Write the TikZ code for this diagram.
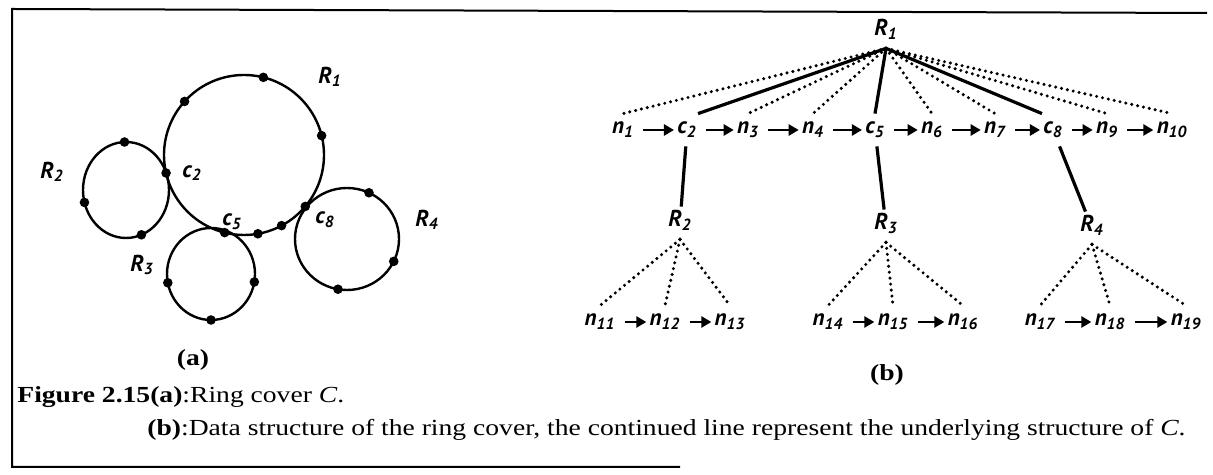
\documentclass[tikz,border=0pt]{standalone}
\usepackage{fontspec}
\setmainfont{Liberation Serif}[FakeStretch=1.2]
\newfontfamily\labfont{PT Sans}
\usetikzlibrary{arrows.meta, positioning}

\newcommand{\lbl}[2]{#1\textsubscript{#2}}

\begin{document}
\begin{tikzpicture}[
        x=0.5pt, y=0.5pt,
        lab/.style={font=\fontsize{11.5}{13}\selectfont\labfont\bfseries\itshape, inner sep=1pt},
        tlab/.style={lab, text height=6.5pt, text depth=2.5pt, inner xsep=0.5pt, inner ysep=3.5pt},
        ring/.style={line width=1.2pt},
        ringdot/.style={circle, fill=black, inner sep=0pt, minimum size=4.8pt},
        arr/.style={-{Triangle[length=5pt, width=5.5pt]}, line width=1.4pt, shorten <=4pt, shorten >=1pt},
        tree/.style={line width=1.6pt},
        dots/.style={line width=1.7pt, line cap=round, dash pattern=on 0pt off 3pt},
        figcap/.style={font=\fontsize{11.5}{13}\selectfont, inner sep=0pt, anchor=west}
    ]
    \useasboundingbox (0,0) rectangle (1213,475);

    % Frame
    \draw[line width=1pt] (680,8) -- (12,8) -- (12,466) -- (1207,462);

    % (a) ring cover
    \coordinate (cR1) at (244,320);
    \coordinate (cR2) at (126,285);
    \coordinate (cR3) at (211,201);
    \coordinate (cR4) at (347,236);
    \draw[ring] (cR1) circle[radius=80];
    \draw[ring] (cR2) ellipse[x radius=43, y radius=48];
    \draw[ring] (cR3) ellipse[x radius=44, y radius=46];
    \draw[ring] (cR4) ellipse[x radius=52, y radius=51];

    \path (cR1) ++(76:80) node[ringdot] (dA1) {};
    \path (cR1) ++(138:80) node[ringdot] (dA2) {};
    \path (cR1) ++(14:80) node[ringdot] (dA3) {};
    \path (cR1) ++(193:80) node[ringdot] (dc2) {};
    \path (cR1) ++(-40:80) node[ringdot] (dc8) {};
    \path (cR1) ++(-62:80) node[ringdot] (dA4) {};
    \path (cR1) ++(-80:80) node[ringdot] (dA5) {};
    \path (cR1) ++(256:80) node[ringdot] (dc5) {};
    \path (cR2) ++(92:43 and 48) node[ringdot] (dB1) {};
    \path (cR2) ++(195:43 and 48) node[ringdot] (dB2) {};
    \path (cR2) ++(-69:43 and 48) node[ringdot] (dB3) {};
    \path (cR3) ++(191:44 and 46) node[ringdot] (dC1) {};
    \path (cR3) ++(-10:44 and 46) node[ringdot] (dC2) {};
    \path (cR3) ++(-90:44 and 46) node[ringdot] (dC3) {};
    \path (cR4) ++(65:52 and 51) node[ringdot] (dD1) {};
    \path (cR4) ++(-26:52 and 51) node[ringdot] (dD2) {};
    \path (cR4) ++(-100:52 and 51) node[ringdot] (dD3) {};

    \node[lab] (lR1) at (330,398) {\lbl{R}{1}};
    \node[lab] (lR2) at (52,303) {\lbl{R}{2}};
    \node[lab] (lR3) at (142,210) {\lbl{R}{3}};
    \node[lab] (lR4) at (427,255) {\lbl{R}{4}};
    \node[lab] (lc2) at (192,302) {\lbl{c}{2}};
    \node[lab] (lc5) at (232,253) {\lbl{c}{5}};
    \node[lab] (lc8) at (325,255) {\lbl{c}{8}};
    \node[font=\fontsize{11.5}{13}\selectfont\bfseries] (capa) at (193,115) {(a)};

    % (b) data structure
    \node[tlab] (tR1) at (886,443) {\lbl{R}{1}};
    \node[tlab] (n1) at (623,345) {\lbl{n}{1}};
    \node[tlab] (c2) at (687,345) {\lbl{c}{2}};
    \node[tlab] (n3) at (748,345) {\lbl{n}{3}};
    \node[tlab] (n4) at (813,345) {\lbl{n}{4}};
    \node[tlab] (c5) at (875,345) {\lbl{c}{5}};
    \node[tlab] (n6) at (932,345) {\lbl{n}{6}};
    \node[tlab] (n7) at (995,345) {\lbl{n}{7}};
    \node[tlab] (c8) at (1053,345) {\lbl{c}{8}};
    \node[tlab] (n9) at (1107,345) {\lbl{n}{9}};
    \node[tlab] (n10) at (1172,345) {\lbl{n}{10}};

    \node[tlab] (tR2) at (680,252) {\lbl{R}{2}};
    \node[tlab] (tR3) at (886,249) {\lbl{R}{3}};
    \node[tlab] (tR4) at (1092,247) {\lbl{R}{4}};

    \node[tlab] (n11) at (600,153) {\lbl{n}{11}};
    \node[tlab] (n12) at (665,153) {\lbl{n}{12}};
    \node[tlab] (n13) at (730,153) {\lbl{n}{13}};
    \node[tlab] (n14) at (828,153) {\lbl{n}{14}};
    \node[tlab] (n15) at (893,153) {\lbl{n}{15}};
    \node[tlab] (n16) at (963,153) {\lbl{n}{16}};
    \node[tlab] (n17) at (1040,153) {\lbl{n}{17}};
    \node[tlab] (n18) at (1110,153) {\lbl{n}{18}};
    \node[tlab] (n19) at (1186,153) {\lbl{n}{19}};

    \node[font=\fontsize{11.5}{13}\selectfont\bfseries] (capb) at (887,100) {(b)};

    % R1 to the top row
    \draw[dots] (tR1.south) -- (n1.north);
    \draw[dots] (tR1.south) -- (n3.north);
    \draw[dots] (tR1.south) -- (n4.north);
    \draw[dots] (tR1.south) -- (n6.north);
    \draw[dots] (tR1.south) -- (n7.north);
    \draw[dots] (tR1.south) -- (n9.north);
    \draw[dots] (tR1.south) -- (n10.north);
    \draw[tree] (tR1.south) -- (c2.north east);
    \draw[tree] (tR1.south) -- (c5.north);
    \draw[tree] (tR1.south) -- (c8.north west);

    % top row
    \draw[arr] (n1) -- (c2);
    \draw[arr] (c2) -- (n3);
    \draw[arr] (n3) -- (n4);
    \draw[arr] (n4) -- (c5);
    \draw[arr] (c5) -- (n6);
    \draw[arr] (n6) -- (n7);
    \draw[arr] (n7) -- (c8);
    \draw[arr] (c8) -- (n9);
    \draw[arr] (n9) -- (n10);

    % shared nodes to the other rings
    \draw[tree] (c2) -- (tR2);
    \draw[tree] (c5) -- (tR3);
    \draw[tree] (c8) -- (tR4);

    % subtrees
    \draw[dots] (tR2.south) -- (n11.north);
    \draw[dots] (tR2.south) -- (n12.north);
    \draw[dots] (tR2.south) -- (n13.north);
    \draw[dots] (tR3.south) -- (n14.north);
    \draw[dots] (tR3.south) -- (n15.north);
    \draw[dots] (tR3.south) -- (n16.north);
    \draw[dots] (tR4.south) -- (n17.north);
    \draw[dots] (tR4.south) -- (n18.north);
    \draw[dots] (tR4.south) -- (n19.north);

    \draw[arr] (n11) -- (n12);
    \draw[arr] (n12) -- (n13);
    \draw[arr] (n14) -- (n15);
    \draw[arr] (n15) -- (n16);
    \draw[arr] (n17) -- (n18);
    \draw[arr] (n18) -- (n19);

    % Caption
    \node[figcap] (figa) at (17,78) {\textbf{Figure 2.15(a)}:Ring cover \textit{C}.};
    \node[figcap] (figb) at (147,45) {\textbf{(b)}:Data structure of the ring cover, the continued line represent the underlying structure of \textit{C}.};

    \end{tikzpicture}
\end{document}
